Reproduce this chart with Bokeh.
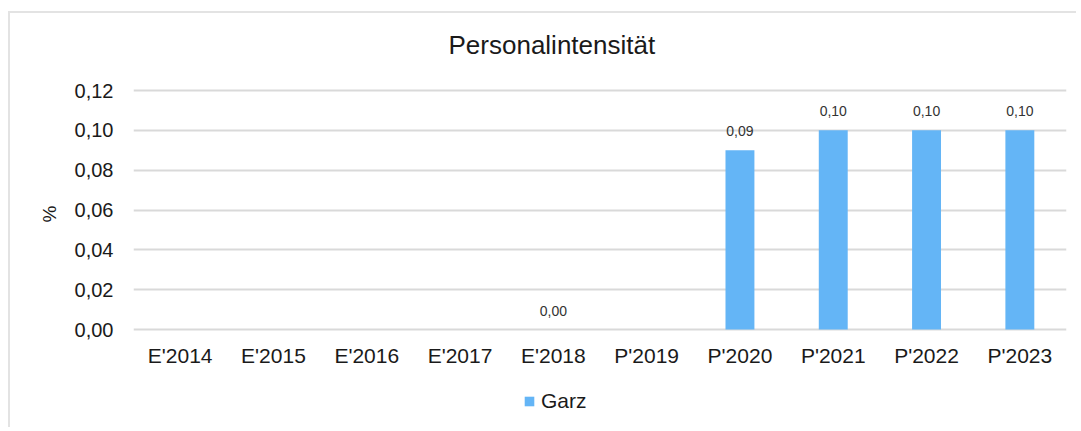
from bokeh.plotting import figure
from bokeh.models import ColumnDataSource, Legend, LegendItem, Label, LabelSet, CustomJSTickFormatter, FixedTicker
from bokeh.core.properties import value
from bokeh.embed import file_html
from bokeh.resources import INLINE

categories = ["E'2014", "E'2015", "E'2016", "E'2017", "E'2018", "P'2019", "P'2020", "P'2021", "P'2022", "P'2023"]
garz = [None, None, None, None, 0.00, None, 0.09, 0.10, 0.10, 0.10]
y_ticks = [0.00, 0.02, 0.04, 0.06, 0.08, 0.10, 0.12]
title_text = "Personalintensität"
series_name = "Garz"

FONT = "Liberation Sans"
BAR = "#64B5F6"
TXT = "#1a1a1a"

# layout: the plotting frame spans from the top of the canvas down past the legend;
# 0 .. 0.12 occupies 239 px, frame top is 77 px above 0.12, frame bottom 85 px below 0
PX = 0.12 / 239.0
y_lo = -85 * PX
y_hi = 0.12 + 77 * PX

vals = [float("nan") if v is None else v for v in garz]
labels = ["" if v is None else f"{v:.2f}".replace(".", ",") for v in garz]
src = ColumnDataSource(dict(cat=categories, val=vals, lab=labels))

p = figure(x_range=categories, y_range=(y_lo, y_hi), width=1068, height=416,
           output_backend="svg", toolbar_location=None,
           min_border_left=123, min_border_right=12, min_border_top=0, min_border_bottom=15)
p.margin = (11, 0, 0, 8)
p.styles = {"border-top": "2px solid #e3e3e3", "border-left": "2px solid #e3e3e3"}
p.outline_line_color = None
p.background_fill_color = "white"

r = p.vbar(x="cat", top="val", width=0.31, source=src, color=BAR, line_color=None)

lbl = LabelSet(x="cat", y="val", text="lab", source=src, y_offset=19, text_align="center",
               text_baseline="middle", text_font=value(FONT), text_font_size="14px", text_color="#333333")
p.add_layout(lbl)

title = Label(x=315, y=370, x_units="screen", y_units="screen", text=title_text,
              text_align="left", text_baseline="alphabetic", text_font=FONT,
              text_font_size="26px", text_color=TXT)
p.add_layout(title)

p.yaxis.ticker = FixedTicker(ticks=y_ticks)
p.yaxis.formatter = CustomJSTickFormatter(code="return tick.toFixed(2).replace('.', ',');")
p.yaxis.axis_label = "%"
p.yaxis.axis_label_text_font = FONT
p.yaxis.axis_label_text_font_style = "normal"
p.yaxis.axis_label_text_font_size = "19px"
p.yaxis.axis_label_text_color = TXT
p.yaxis.axis_label_standoff = 12
for ax in (p.xaxis, p.yaxis):
    ax.axis_line_color = None
    ax.major_tick_line_color = None
    ax.minor_tick_line_color = None
    ax.major_tick_out = 0
    ax.major_tick_in = 0
    ax.major_label_text_font = FONT
    ax.major_label_text_color = TXT
p.xaxis.fixed_location = 0
p.yaxis.major_label_text_font_size = "20px"
p.xaxis.major_label_text_font_size = "21px"
p.yaxis.major_label_standoff = 20
p.xaxis.major_label_standoff = 14

p.xgrid.grid_line_color = None
p.ygrid.grid_line_color = "#d9d9d9"
p.ygrid.grid_line_width = 2

legend = Legend(items=[LegendItem(label=series_name, renderers=[r])], location=(390, 1),
                orientation="horizontal", padding=0, margin=0, glyph_width=12, glyph_height=12,
                label_text_font=FONT, label_text_font_size="21px", label_text_color=TXT,
                label_standoff=6, border_line_color=None, background_fill_alpha=0)
p.add_layout(legend, "center")

open("out.html", "w").write(file_html(p, INLINE))
